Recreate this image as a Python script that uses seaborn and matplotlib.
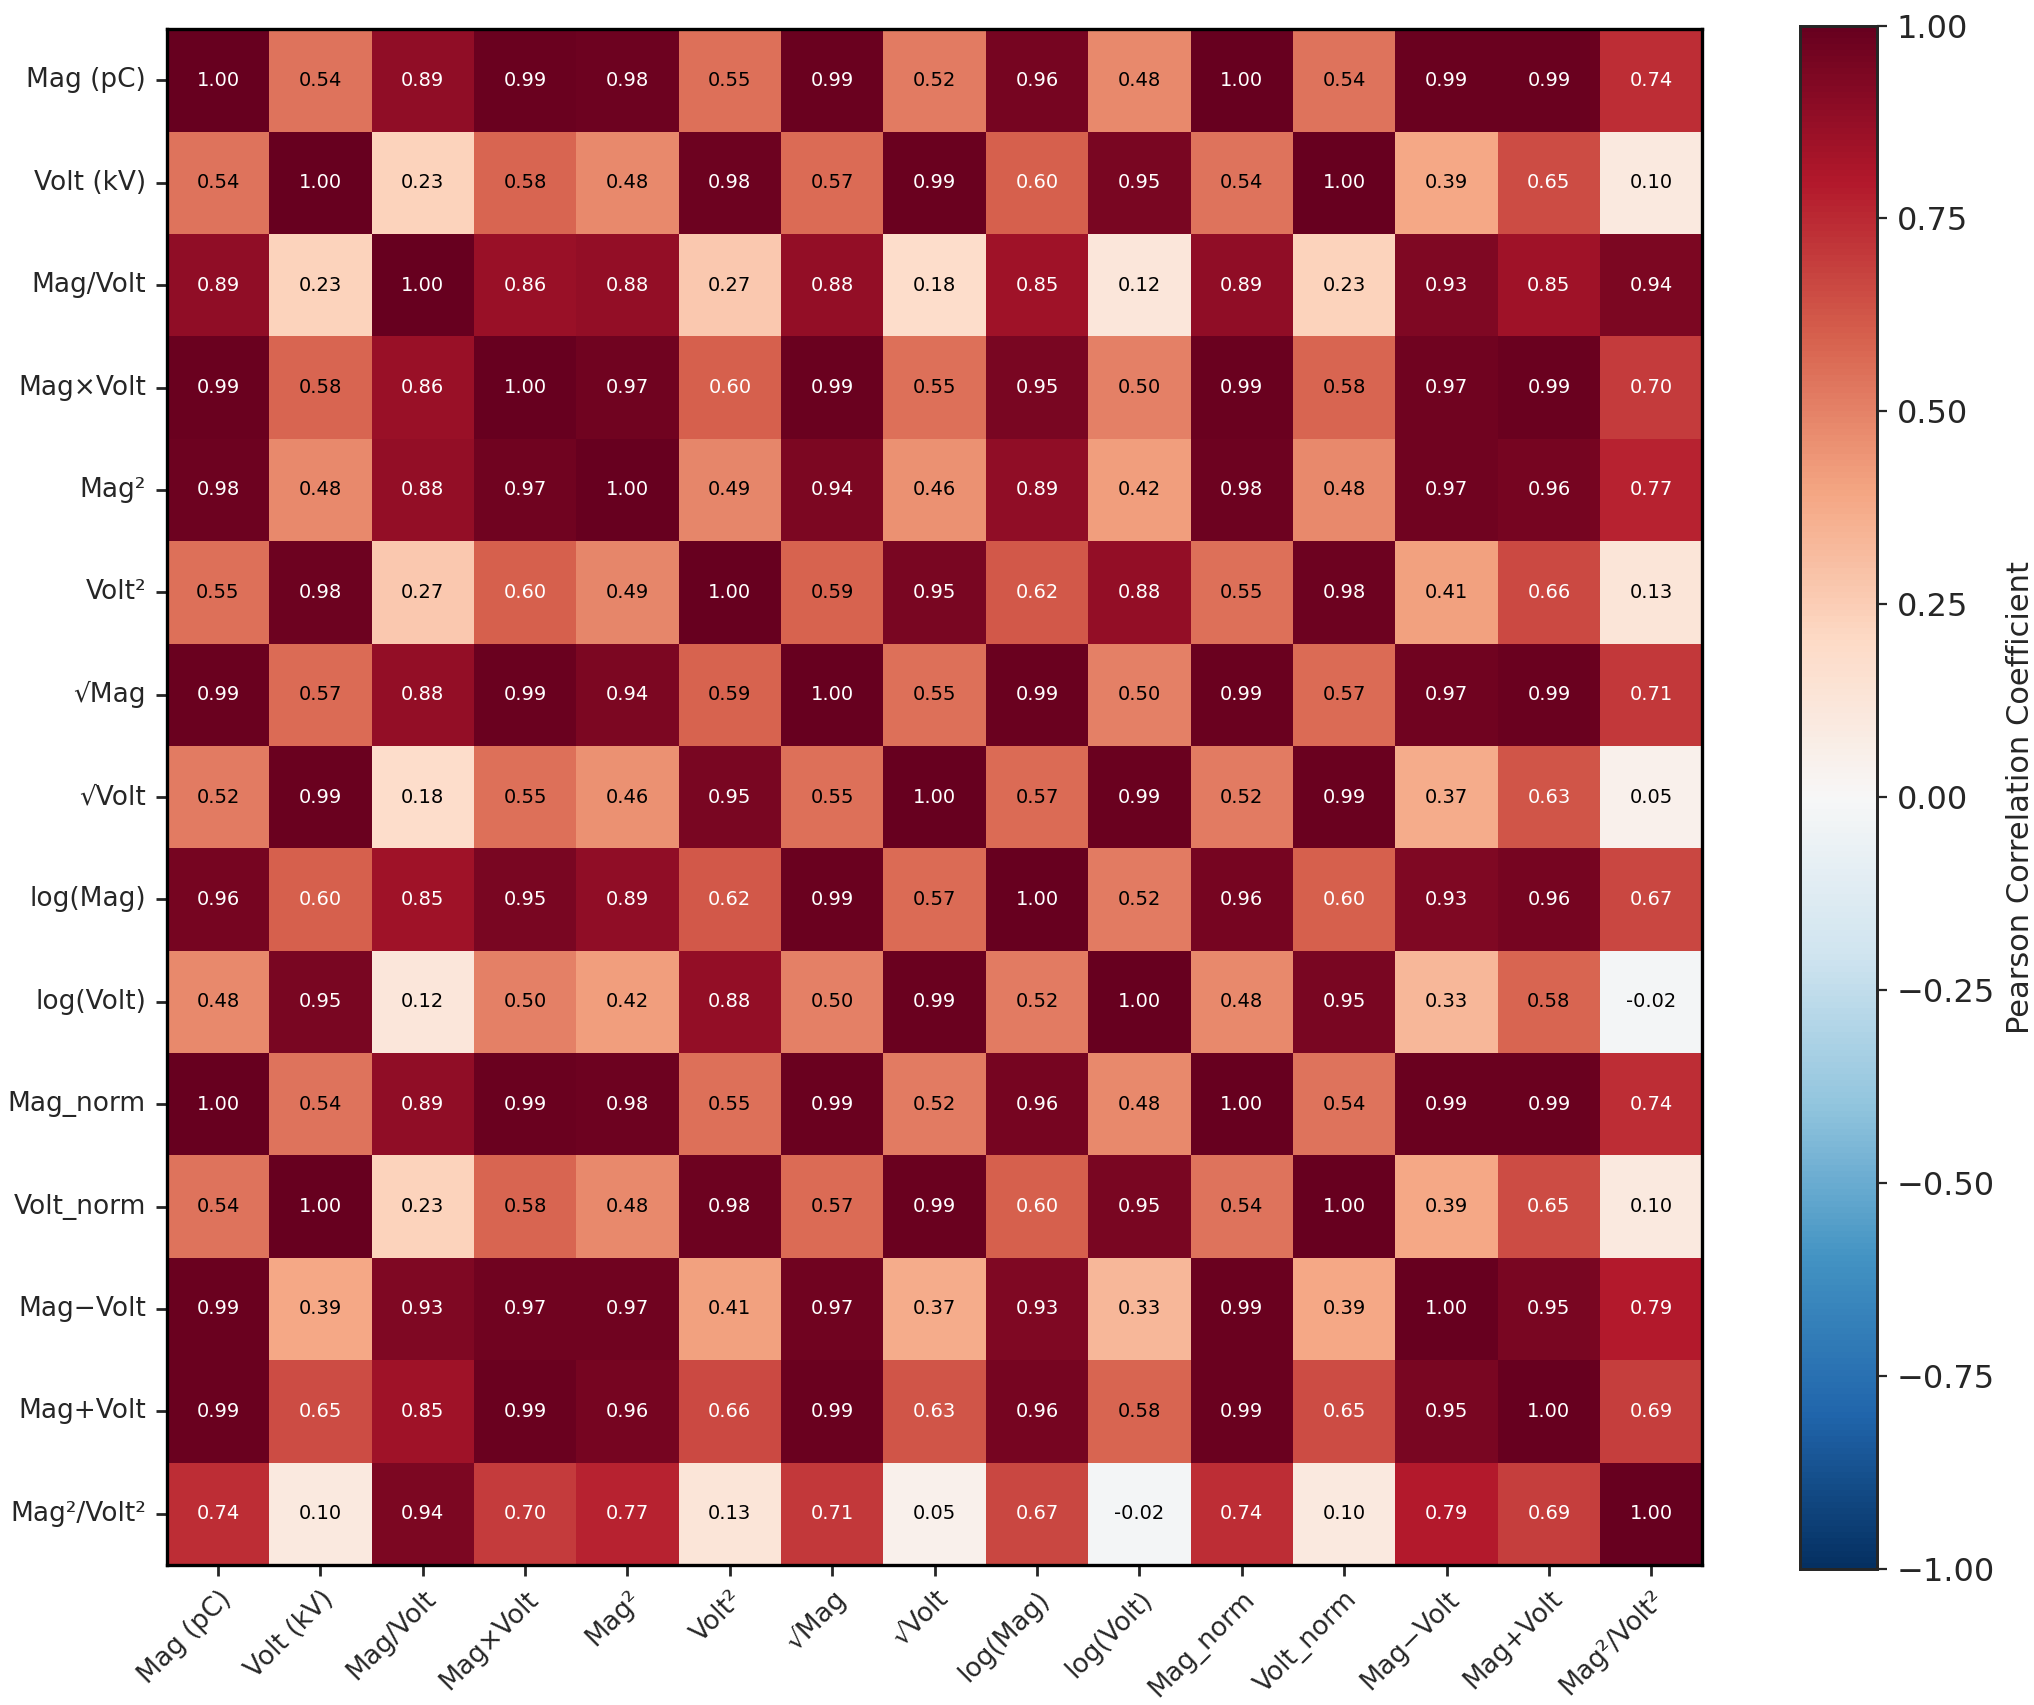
import numpy as np
import pandas as pd
import matplotlib
matplotlib.use("Agg")
import matplotlib.pyplot as plt
import seaborn as sns

labels = ["Mag (pC)", "Volt (kV)", "Mag/Volt", "Mag×Volt", "Mag²", "Volt²", "√Mag", "√Volt",
          "log(Mag)", "log(Volt)", "Mag_norm", "Volt_norm", "Mag−Volt", "Mag+Volt", "Mag²/Volt²"]

r_mag = [1.00, 0.54, 0.89, 0.99, 0.98, 0.55, 0.99, 0.52, 0.96, 0.48, 1.00, 0.54, 0.99, 0.99, 0.74]
r_volt = [0.54, 1.00, 0.23, 0.58, 0.48, 0.98, 0.57, 0.99, 0.60, 0.95, 0.54, 1.00, 0.39, 0.65, 0.10]
r_ratio = [0.89, 0.23, 1.00, 0.86, 0.88, 0.27, 0.88, 0.18, 0.85, 0.12, 0.89, 0.23, 0.93, 0.85, 0.94]
r_prod = [0.99, 0.58, 0.86, 1.00, 0.97, 0.60, 0.99, 0.55, 0.95, 0.50, 0.99, 0.58, 0.97, 0.99, 0.70]
r_mag2 = [0.98, 0.48, 0.88, 0.97, 1.00, 0.49, 0.94, 0.46, 0.89, 0.42, 0.98, 0.48, 0.97, 0.96, 0.77]
r_volt2 = [0.55, 0.98, 0.27, 0.60, 0.49, 1.00, 0.59, 0.95, 0.62, 0.88, 0.55, 0.98, 0.41, 0.66, 0.13]
r_sqmag = [0.99, 0.57, 0.88, 0.99, 0.94, 0.59, 1.00, 0.55, 0.99, 0.50, 0.99, 0.57, 0.97, 0.99, 0.71]
r_sqvolt = [0.52, 0.99, 0.18, 0.55, 0.46, 0.95, 0.55, 1.00, 0.57, 0.99, 0.52, 0.99, 0.37, 0.63, 0.05]
r_logmag = [0.96, 0.60, 0.85, 0.95, 0.89, 0.62, 0.99, 0.57, 1.00, 0.52, 0.96, 0.60, 0.93, 0.96, 0.67]
r_logvolt = [0.48, 0.95, 0.12, 0.50, 0.42, 0.88, 0.50, 0.99, 0.52, 1.00, 0.48, 0.95, 0.33, 0.58, -0.02]
r_magn = [1.00, 0.54, 0.89, 0.99, 0.98, 0.55, 0.99, 0.52, 0.96, 0.48, 1.00, 0.54, 0.99, 0.99, 0.74]
r_voltn = [0.54, 1.00, 0.23, 0.58, 0.48, 0.98, 0.57, 0.99, 0.60, 0.95, 0.54, 1.00, 0.39, 0.65, 0.10]
r_diff = [0.99, 0.39, 0.93, 0.97, 0.97, 0.41, 0.97, 0.37, 0.93, 0.33, 0.99, 0.39, 1.00, 0.95, 0.79]
r_sum = [0.99, 0.65, 0.85, 0.99, 0.96, 0.66, 0.99, 0.63, 0.96, 0.58, 0.99, 0.65, 0.95, 1.00, 0.69]
r_ratio2 = [0.74, 0.10, 0.94, 0.70, 0.77, 0.13, 0.71, 0.05, 0.67, -0.02, 0.74, 0.10, 0.79, 0.69, 1.00]

rows = [r_mag, r_volt, r_ratio, r_prod, r_mag2, r_volt2, r_sqmag, r_sqvolt, r_logmag,
        r_logvolt, r_magn, r_voltn, r_diff, r_sum, r_ratio2]
df = pd.DataFrame(rows, index=labels, columns=labels)

sns.set_style("white")
plt.rcParams['font.family'] = ['DejaVu Sans']
fig = plt.figure(figsize=(10.17, 8.525), dpi=200)
ax = fig.add_axes([0.082, 0.08, 0.755, 0.905])
cax = fig.add_axes([0.885, 0.08, 0.038, 0.905])
sns.heatmap(df, ax=ax, cbar_ax=cax, cmap="RdBu_r", vmin=-1, vmax=1, annot=False, square=True,
            cbar_kws={"label": "Pearson Correlation Coefficient"})
vals = df.to_numpy()
for i in range(vals.shape[0]):
    for j in range(vals.shape[1]):
        v = vals[i, j]
        ax.text(j + 0.5, i + 0.5, f"{v:.2f}", ha="center", va="center", fontsize=7,
                color="white" if abs(v) >= 0.595 else "black")
for s in ax.spines.values():
    s.set_visible(True); s.set_linewidth(1.2); s.set_color("black")
ax.tick_params(axis="both", length=4, width=1, labelsize=9.5, left=True, bottom=True)
ax.set_xticklabels(labels, rotation=45, ha="right", rotation_mode="anchor")
ax.set_yticklabels(labels, rotation=0)
cax.tick_params(labelsize=11.5)
cax.yaxis.label.set_size(11)
for s in cax.spines.values():
    s.set_visible(True); s.set_linewidth(1)
fig.savefig("out.png", dpi=200)
